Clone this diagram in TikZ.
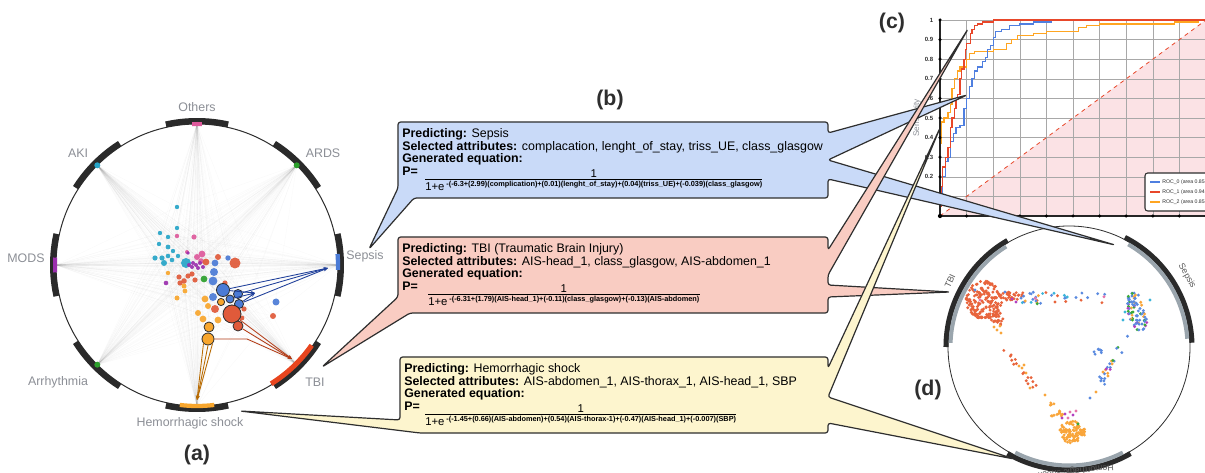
\documentclass[tikz,border=0pt]{standalone}
\usepackage{fontspec}
\setmainfont{Liberation Sans}
\usepackage{xcolor}
\usepackage{tikz}
\usetikzlibrary{arrows.meta,positioning,calc}
\definecolor{ink}{HTML}{2E2E2E}
\definecolor{lblgrey}{HTML}{8C8F96}
\definecolor{slotblack}{HTML}{2A2A2A}
\definecolor{cya}{HTML}{27A5C8}
\definecolor{pnk}{HTML}{DE5A9C}
\definecolor{prp}{HTML}{9B2FAE}
\definecolor{red}{HTML}{E05A3A}
\definecolor{blu}{HTML}{4B7BD6}
\definecolor{org}{HTML}{F8A62D}
\definecolor{grn}{HTML}{2CA02C}
\definecolor{tbiseg}{HTML}{E8451E}
\definecolor{separrow}{HTML}{1F3F9A}
\definecolor{tbiarrow}{HTML}{B23A14}
\definecolor{hemarrow}{HTML}{B86A00}
\definecolor{boxblue}{HTML}{C9DAF8}
\definecolor{boxred}{HTML}{F9CCC2}
\definecolor{boxyel}{HTML}{FDF5CE}
\definecolor{gridgrey}{HTML}{A8A8A8}
\definecolor{rocblue}{HTML}{4F7FE0}
\definecolor{rocred}{HTML}{E8472A}
\definecolor{rocorange}{HTML}{FFA521}
\definecolor{rocpink}{HTML}{FBE2E5}
\definecolor{arcgrey}{HTML}{9AA5AD}
\definecolor{ptred}{HTML}{E8643C}
\definecolor{ptorg}{HTML}{F9A53A}
\definecolor{ptblue}{HTML}{5A8AE0}
\definecolor{ptgreen}{HTML}{3AAA3A}
\definecolor{ptmag}{HTML}{B23FC0}
\definecolor{ptpink}{HTML}{E673AA}
\definecolor{ptcyan}{HTML}{3BB5DA}
\tikzset{
  ring/.style={draw=ink, line width=0.75pt},
  slot/.style={draw=slotblack, line width=4.5pt},
  faint/.style={draw=gray, opacity=0.04, line width=0.3pt},
  bub/.style={circle, inner sep=0pt, draw=none, fill opacity=0.92},
  bubo/.style={circle, inner sep=0pt, draw=ink, line width=0.6pt},
  flow/.style={-{Stealth[length=3.2pt, width=2.6pt]}, line width=0.65pt},
  lbl/.style={font=\fontsize{9.3}{10}\selectfont, text=lblgrey, inner sep=0pt},
  tag/.style={font=\fontsize{16}{16}\selectfont\bfseries, text=ink, inner sep=0pt},
  callout/.style={draw=ink, line width=0.9pt, rounded corners=2pt, line join=round},
  boxtxt/.style={font=\fontsize{9.3}{9.6}\selectfont, align=left, anchor=north west, inner sep=0pt},
  eqtxt/.style={font=\fontsize{8.5}{9}\selectfont, inner sep=0pt},
  fracbar/.style={draw=black, line width=0.6pt},
  grid/.style={draw=gridgrey, line width=0.4pt},
  axis/.style={draw=black!85, line width=2.2pt},
  rocline/.style={line width=0.9pt},
  ticklbl/.style={font=\fontsize{4.5}{5}\selectfont\bfseries, text=ink, inner sep=0pt},
  legtxt/.style={font=\fontsize{3.9}{4}\selectfont, text=ink, inner sep=0pt, anchor=west},
  dslot/.style={draw=slotblack, line width=3.8pt},
  dgrey/.style={draw=arcgrey, line width=3pt},
  dlbl/.style={font=\fontsize{6.6}{7}\selectfont, text=ink!80, inner sep=0pt}
}
\newcommand{\expo}[1]{\raisebox{2.8pt}{\fontsize{5.5}{5.5}\selectfont\bfseries #1}}
% bubbles of panel (a): x/y/radius/colour
\newcommand{\bubblelist}{177/207/2.2/cya, 177/228/2.2/cya, 168/237/2.2/cya, 160/233/2.2/cya,
159/244/2.2/cya, 168/247/2.4/cya, 173/251/2.2/cya, 178/256/2.2/cya, 155/258/2.6/cya,
162/258/2.6/cya, 168/256/2.3/cya, 164/263/3/cya, 172/260/2.3/cya, 186/263/5/cya,
177/236/2.2/pnk, 194/237/2.6/pnk, 187/252/2/pnk, 202/254/3.4/pnk, 197/257/3/pnk, 201/261/2.8/pnk,
188/253/1.8/prp, 193/263/2/prp, 196/265/2/prp, 200/263/2/prp, 192/267/2/prp, 198/268/2/prp,
203/267/2/prp, 189/265/2/prp, 166/283/2.3/prp,
206/262/3.4/red, 218/257/3/red, 235/263/5.5/red, 179/277/2.6/red, 184/281/2.8/red,
180/283/2.6/red, 188/276/2.6/red, 192/274/2.6/red, 195/280/2.6/red, 225/283/2.6/red,
215/309/4/red, 244/309/2.6/red, 242/318/2.4/red, 273/316/3/red,
204/279/3.4/grn,
168/273/2.2/org, 184/286/2.5/org, 185/291/2.4/org, 177/298/2.5/org, 205/299/3.4/org,
208/306/3/org, 198/313/3/org, 203/319/3.4/org, 218/320/3.4/org,
228/258/2.7/blu, 215/263/3.4/blu, 214/272/4/blu, 213/281/4.4/blu, 213/297/4/blu, 276/302/3.5/blu}
\pgfmathdeclarerandomlist{mix}{{ptred}{ptblue}{ptred}{ptblue}{ptgreen}{ptpink}{ptcyan}{ptorg}}
\pgfmathdeclarerandomlist{rightmix}{{ptblue}{ptblue}{ptblue}{ptblue}{ptgreen}{ptmag}{ptorg}}

\begin{document}
\begin{tikzpicture}[x=0.75pt, y=-0.75pt]
  \useasboundingbox (0,0) rectangle (1205,473);
  \fill[white] (0,0) rectangle (1205,473);

  % ---------- (a) outcome ring ----------
  \coordinate (ca) at (197,265);
  \coordinate (others) at ($(ca)+(-90:141)$);
  \coordinate (ards) at ($(ca)+(-45:141)$);
  \coordinate (sepsis) at ($(ca)+(0:141)$);
  \coordinate (tbi) at ($(ca)+(45:141)$);
  \coordinate (hem) at ($(ca)+(90:141)$);
  \coordinate (arr) at ($(ca)+(135:141)$);
  \coordinate (mods) at ($(ca)+(180:141)$);
  \coordinate (aki) at ($(ca)+(225:141)$);
  \foreach [count=\i] \x/\y/\r/\c in \bubblelist \coordinate (p\i) at (\x,\y);
  \foreach \a in {others,ards,sepsis,tbi,hem,arr,mods,aki}
    \foreach \i in {1,...,58} \draw[faint] (\a) -- (p\i);

  \draw[ring] (ca) circle[radius=141];
  \foreach \t in {-90,-45,0,45,90,135,180,225}
    \draw[slot] ($(ca)+(\t-12.5:144)$) arc[start angle=\t-12.5, end angle=\t+12.5, radius=144];
  \draw[draw=pnk, line width=3pt] ($(ca)+(-92:141)$) arc[start angle=-92, end angle=-88, radius=141];
  \draw[draw=prp, line width=3pt] ($(ca)+(177:142)$) arc[start angle=177, end angle=183, radius=142];
  \draw[draw=blu, line width=3.2pt] ($(ca)+(-4.5:141)$) arc[start angle=-4.5, end angle=2, radius=141];
  \draw[draw=tbiseg, line width=3.8pt] ($(ca)+(35:140)$) arc[start angle=35, end angle=58, radius=140];
  \draw[draw=org, line width=3.2pt] ($(ca)+(83:141)$) arc[start angle=83, end angle=97, radius=141];
  \fill[grn] (ards) circle[radius=3];
  \fill[cya] (aki) circle[radius=3];
  \fill[grn] (arr) circle[radius=3];

  \node[lbl] (l-others) at (197,107) {Others};
  \node[lbl] (l-ards) at (323,153) {ARDS};
  \node[lbl] (l-aki) at (78,153) {AKI};
  \node[lbl] (l-sepsis) at (365,256) {Sepsis};
  \node[lbl] (l-mods) at (26,258) {MODS};
  \node[lbl] (l-tbi) at (315,382) {TBI};
  \node[lbl] (l-arr) at (58,382) {Arrhythmia};
  \node[lbl] (l-hem) at (190,423) {Hemorrhagic shock};
  \node[tag] (lab-a) at (197,455) {(a)};

  \foreach [count=\i] \x/\y/\r/\c in \bubblelist
    \node[bub, fill=\c, minimum size=\r*1.5pt] (b\i) at (p\i) {};
  \node[bubo, fill=blu, minimum size=9.8pt] (bsep1) at (223,290) {};
  \node[bubo, fill=blu, minimum size=6.8pt] (bsep2) at (238,294) {};
  \node[bubo, fill=blu, minimum size=6pt] (bsep3) at (230,299) {};
  \node[bubo, fill=blu, minimum size=6.8pt] (bsep4) at (239,304) {};
  \node[bubo, fill=org, minimum size=5.4pt] (borg1) at (221,302) {};
  \node[bubo, fill=red, minimum size=13.5pt] (btbi1) at (232,314) {};
  \node[bubo, fill=red, minimum size=7.5pt] (btbi2) at (238,326) {};
  \node[bubo, fill=org, minimum size=7.5pt] (bhem1) at (209,327) {};
  \node[bubo, fill=org, minimum size=9pt] (bhem2) at (208,339) {};

  \coordinate (sep-tip) at (328,268);
  \coordinate (sep-mid) at (255,293);
  \coordinate (tbi-tip) at (292,359);
  \coordinate (tbi-bend) at (247,339);
  \coordinate (hem-tip) at (197,400);
  \foreach \b in {bsep1,bsep2,bsep4} \draw[flow, separrow] (\b) -- (sep-tip);
  \foreach \b in {bsep1,bsep3,bsep4} \draw[flow, separrow] (\b) -- (sep-mid);
  \foreach \b in {btbi1,btbi2} \draw[flow, tbiarrow] (\b) -- (tbi-tip);
  \draw[flow, tbiarrow] (bhem2.east) -- (tbi-bend) -- (tbi-tip);
  \foreach \s in {south west,south,south east} \draw[flow, hemarrow] (bhem2.\s) -- (hem-tip);

  % ---------- (c) ROC curves ----------
  \node[tag] (lab-c) at (892,23) {(c)};
  \begin{scope}[shift={(940,216)}, x=199.5pt, y=147pt]
    \fill[rocpink] (0,0) -- (1,0) -- (1,1) -- cycle;
    \foreach \k in {1,...,10} {
      \draw[grid] (\k/10,0) -- (\k/10,1);
      \draw[grid] (0,\k/10) -- (1,\k/10);
    }
    \draw[rocred, dashed, line width=0.6pt] (0,0) -- (1,1);
    \draw[rocline, rocorange] (0,0) |- (0.007,0.37) |- (0.015,0.48) |- (0.03,0.5) |- (0.04,0.53)
      |- (0.045,0.57) |- (0.055,0.65) |- (0.065,0.7) |- (0.075,0.74) |- (0.1,0.76) |- (0.11,0.8)
      |- (0.13,0.83) |- (0.2,0.84) |- (0.25,0.85) |- (0.27,0.88) |- (0.29,0.9) |- (0.35,0.92)
      |- (0.4,0.93) |- (0.52,0.94) |- (0.55,0.96) |- (0.6,0.97) |- (0.88,0.98) |- (0.97,0.99) |- (1,1);
    \draw[rocline, rocblue] (0,0) |- (0.01,0.1) |- (0.02,0.2) |- (0.03,0.28) |- (0.04,0.3)
      |- (0.05,0.38) |- (0.06,0.42) |- (0.075,0.45) |- (0.09,0.46) |- (0.1,0.55) |- (0.11,0.6)
      |- (0.12,0.66) |- (0.13,0.7) |- (0.14,0.74) |- (0.16,0.76) |- (0.17,0.79) |- (0.18,0.81)
      |- (0.19,0.85) |- (0.2,0.87) |- (0.21,0.91) |- (0.23,0.94) |- (0.26,0.95) |- (0.3,0.97)
      |- (0.35,0.98) |- (0.42,0.99) |- (0.5,1) -- (1,1);
    \draw[rocline, rocred] (0,0) |- (0.005,0.05) |- (0.01,0.15) |- (0.02,0.25) |- (0.03,0.3)
      |- (0.04,0.35) |- (0.045,0.45) |- (0.055,0.5) |- (0.06,0.55) |- (0.065,0.6) |- (0.075,0.62)
      |- (0.08,0.7) |- (0.09,0.75) |- (0.095,0.8) |- (0.1,0.85) |- (0.115,0.88) |- (0.12,0.93)
      |- (0.13,0.95) |- (0.14,0.97) |- (0.16,0.98) |- (0.2,0.99) |- (0.3,1) -- (1,1);
    \draw[axis] (0,1) -- (0,0) -- (1,0);
    \foreach \k in {1,...,10} {
      \fill[black] (0,\k/10) circle[radius=1.3pt];
      \fill[black] (\k/10,0) circle[radius=1.3pt];
    }
    \fill[black] (0,0) circle[radius=1.6pt];
    \foreach \k/\v in {1/0.1,2/0.2,3/0.3,4/0.4,5/0.5,6/0.6,7/0.7,8/0.8,9/0.9,10/1}
      \node[ticklbl, anchor=east] (yt\k) at (-0.025,\k/10) {\v};
  \end{scope}
  \node[font=\fontsize{6.2}{6}\selectfont, text=lblgrey, rotate=90, inner sep=0pt] (ytitle) at (917,118) {Sensitivity};
  \draw[draw=ink, fill=white, line width=0.8pt, rounded corners=2pt] (1145,173) rectangle (1240,211);
  \draw[rocblue, line width=0.9pt] (1150,182) -- (1160,182);
  \draw[rocred, line width=0.9pt] (1150,192) -- (1160,192);
  \draw[rocorange, line width=0.9pt] (1150,202) -- (1160,202);
  \node[legtxt] (leg0) at (1162,182) {ROC\_0 (area 0.85};
  \node[legtxt] (leg1) at (1162,192) {ROC\_1 (area 0.94};
  \node[legtxt] (leg2) at (1162,202) {ROC\_2 (area 0.85};

  % ---------- (d) projection circle ----------
  \coordinate (cd) at (1069,347);
  \draw[ring, line width=0.6pt] (cd) circle[radius=121];
  \draw[dslot] ($(cd)+(-120:123)$) arc[start angle=-120, end angle=-180, radius=123];
  \draw[dgrey] ($(cd)+(-122:118.5)$) arc[start angle=-122, end angle=-178, radius=118.5];
  \draw[dslot] ($(cd)+(-2:123)$) arc[start angle=-2, end angle=-63, radius=123];
  \draw[dgrey] ($(cd)+(-4:118.5)$) arc[start angle=-4, end angle=-60, radius=118.5];
  \draw[dslot] ($(cd)+(-240:123)$) arc[start angle=-240, end angle=-300, radius=123];
  \draw[dgrey] ($(cd)+(-243:118.5)$) arc[start angle=-243, end angle=-297, radius=118.5];
  \node[dlbl, rotate=65] (d-tbi) at (950,281) {TBI};
  \node[dlbl, rotate=-60] (d-sep) at (1187,276) {Sepsis};
  \node[dlbl, rotate=186] (d-hem) at (1076,471) {Hemorrhagic shock};
  \node[tag] (lab-d) at (928,390) {(d)};

  \pgfmathsetseed{12}
  \foreach \i in {1,...,170} {
    \pgfmathsetmacro\aa{360*rnd}\pgfmathsetmacro\rr{sqrt(rnd)}
    \fill[ptred] ({984+18*\rr*cos(\aa)}, {300+19*\rr*sin(\aa)}) circle[radius=1.6];
  }
  \foreach \i in {1,...,25} {
    \pgfmathsetmacro\aa{360*rnd}\pgfmathsetmacro\rr{sqrt(rnd)}
    \fill[ptred] ({997+6*\rr*cos(\aa)}, {318+9*\rr*sin(\aa)}) circle[radius=1.6];
  }
  \foreach \x/\y in {997/330,1001/333,994/327,1000/326} \fill[ptorg] (\x,\y) circle[radius=1.6];
  \foreach \i in {1,...,30} \fill[ptred] ({1012+10*rand}, {296+4*rand}) circle[radius=1.6];
  \foreach \x/\y/\c in {1005/292/ptblue,1012/299/ptmag,1016/302/ptmag,975/290/ptblue,980/300/ptpink}
    \fill[\c] (\x,\y) circle[radius=1.6];
  \foreach \i in {1,...,38} {
    \pgfmathrandomitem{\cc}{mix}
    \fill[\cc] ({1020+85*rnd}, {298+6*rand}) circle[radius=1.6];
  }
  \foreach \i in {1,...,80} {
    \pgfmathsetmacro\aa{360*rnd}\pgfmathsetmacro\rr{sqrt(rnd)}
    \pgfmathrandomitem{\cc}{rightmix}
    \fill[\cc] ({1137+9*\rr*cos(\aa)+4*\rr*sin(\aa)}, {312+20*\rr*sin(\aa)}) circle[radius=1.6];
  }
  \foreach \x/\y in {1123/320,1125/312,1150/300} \fill[ptcyan] (\x,\y) circle[radius=1.6];
  \foreach \i in {1,...,22} {
    \pgfmathsetmacro\tt{rnd}
    \pgfmathrandomitem{\cc}{rightmix}
    \fill[\cc] ({1128-28*\tt+4*rand}, {335+50*\tt+4*rand}) circle[radius=1.6];
  }
  \foreach \i in {1,...,7} \fill[ptblue] ({1098+4*rand}, {352+3*rand}) circle[radius=1.6];
  \foreach \i in {1,...,16} {
    \pgfmathsetmacro\tt{rnd}
    \fill[ptred] ({1003+32*\tt+3*rand}, {345+45*\tt+3*rand}) circle[radius=1.6];
  }
  \foreach \x/\y in {1019/366,1022/368,1026/373,1030/388,1024/365} \fill[ptorg] (\x,\y) circle[radius=1.6];
  \foreach \i in {1,...,100} {
    \pgfmathsetmacro\aa{360*rnd}\pgfmathsetmacro\rr{sqrt(rnd)}
    \fill[ptorg] ({1072+13*\rr*cos(\aa)}, {432+11*\rr*sin(\aa)}) circle[radius=1.6];
  }
  \foreach \i in {1,...,14} \fill[ptorg] ({1058+8*rand}, {410+8*rand}) circle[radius=1.6];
  \foreach \x/\y/\c in {1065/414/ptmag,1070/412/ptpink,1073/415/ptmag,1062/418/ptmag,1068/418/ptpink,
    1076/411/ptpink,1078/424/ptgreen,1090/398/ptblue,1096/392/ptorg,1045/395/ptorg,1103/372/ptorg,1108/376/ptorg}
    \fill[\c] (\x,\y) circle[radius=1.6];

  % ---------- (b) call-outs ----------
  \node[tag] (lab-b) at (610,100) {(b)};
  \coordinate (sep-a) at (369,249);
  \coordinate (sep-c) at (967,95);
  \coordinate (sep-d) at (1115,245);
  \draw[callout, fill=boxblue] (398,170) -- (398,122) -- (828,122) -- (828,133) -- (sep-c) -- (828,160)
    -- (sep-d) -- (828,179) -- (828,198) -- (414,198) -- (sep-a) -- (398,188) -- cycle;
  \node[boxtxt] (sep-txt) at (402,128) {\textbf{Predicting:} Sepsis\\
    \textbf{Selected attributes:} complacation, lenght\_of\_stay, triss\_UE, class\_glasgow\\
    \textbf{Generated equation:}};
  \node[boxtxt, font=\fontsize{9.3}{9.6}\selectfont\bfseries, anchor=base west] (sep-p) at (402,175.4) {P=};
  \node[eqtxt, anchor=base west] (sep-den) at (425,190.5)
    {1+e\,\expo{-(-6.3+(2.99)(complication)+(0.01)(lenght\_of\_stay)+(0.04)(triss\_UE)+(-0.039)(class\_glasgow)}};
  \draw[fracbar] ([yshift=1.4pt]sep-den.north west) -- ([yshift=1.4pt]sep-den.north east);
  \node[eqtxt, above=2.4pt of sep-den.north] (sep-num) {1};

  \coordinate (tbi-a) at (322,367);
  \coordinate (tbi-c) at (968,29);
  \coordinate (tbi-d) at (950,292);
  \draw[callout, fill=boxred] (398,270) -- (398,237) -- (828,237) -- (828,250) -- (tbi-c) -- (828,275)
    -- (828,285) -- (tbi-d) -- (828,297) -- (828,313) -- (410,313) -- (tbi-a) -- (398,297) -- cycle;
  \node[boxtxt] (tbi-txt) at (402,243) {\textbf{Predicting:} TBI (Traumatic Brain Injury)\\
    \textbf{Selected attributes:} AIS-head\_1, class\_glasgow, AIS-abdomen\_1\\
    \textbf{Generated equation:}};
  \node[boxtxt, font=\fontsize{9.3}{9.6}\selectfont\bfseries, anchor=base west] (tbi-p) at (402,290.4) {P=};
  \node[eqtxt, anchor=base west] (tbi-den) at (428,305.5)
    {1+e\,\expo{-(-6.31+(1.79)(AIS-head\_1)+(-0.11)(class\_glasgow)+(-0.13)(AIS-abdomen)}};
  \draw[fracbar] ([yshift=1.4pt]tbi-den.north west) -- ([yshift=1.4pt]tbi-den.north east);
  \node[eqtxt, above=2.4pt of tbi-den.north] (tbi-num) {1};

  \coordinate (hem-a) at (240,411);
  \coordinate (hem-c) at (940,128);
  \coordinate (hem-d) at (1014,459);
  \draw[callout, fill=boxyel] (400,390) -- (400,357) -- (828,357) -- (828,368) -- (hem-c) -- (828,397)
    -- (hem-d) -- (828,423) -- (828,433) -- (420,433) -- (hem-a) -- (400,420) -- cycle;
  \node[boxtxt] (hem-txt) at (404,363) {\textbf{Predicting:} Hemorrhagic shock\\
    \textbf{Selected attributes:} AIS-abdomen\_1, AIS-thorax\_1, AIS-head\_1, SBP\\
    \textbf{Generated equation:}};
  \node[boxtxt, font=\fontsize{9.3}{9.6}\selectfont\bfseries, anchor=base west] (hem-p) at (404,410.4) {P=};
  \node[eqtxt, anchor=base west] (hem-den) at (425,425.5)
    {1+e\,\expo{-(-1.45+(0.66)(AIS-abdomen)+(0.54)(AIS-thorax-1)+(-0.47)(AIS-head\_1)+(-0.007)(SBP)}};
  \draw[fracbar] ([yshift=1.4pt]hem-den.north west) -- ([yshift=1.4pt]hem-den.north east);
  \node[eqtxt, above=2.4pt of hem-den.north] (hem-num) {1};
\end{tikzpicture}
\end{document}
